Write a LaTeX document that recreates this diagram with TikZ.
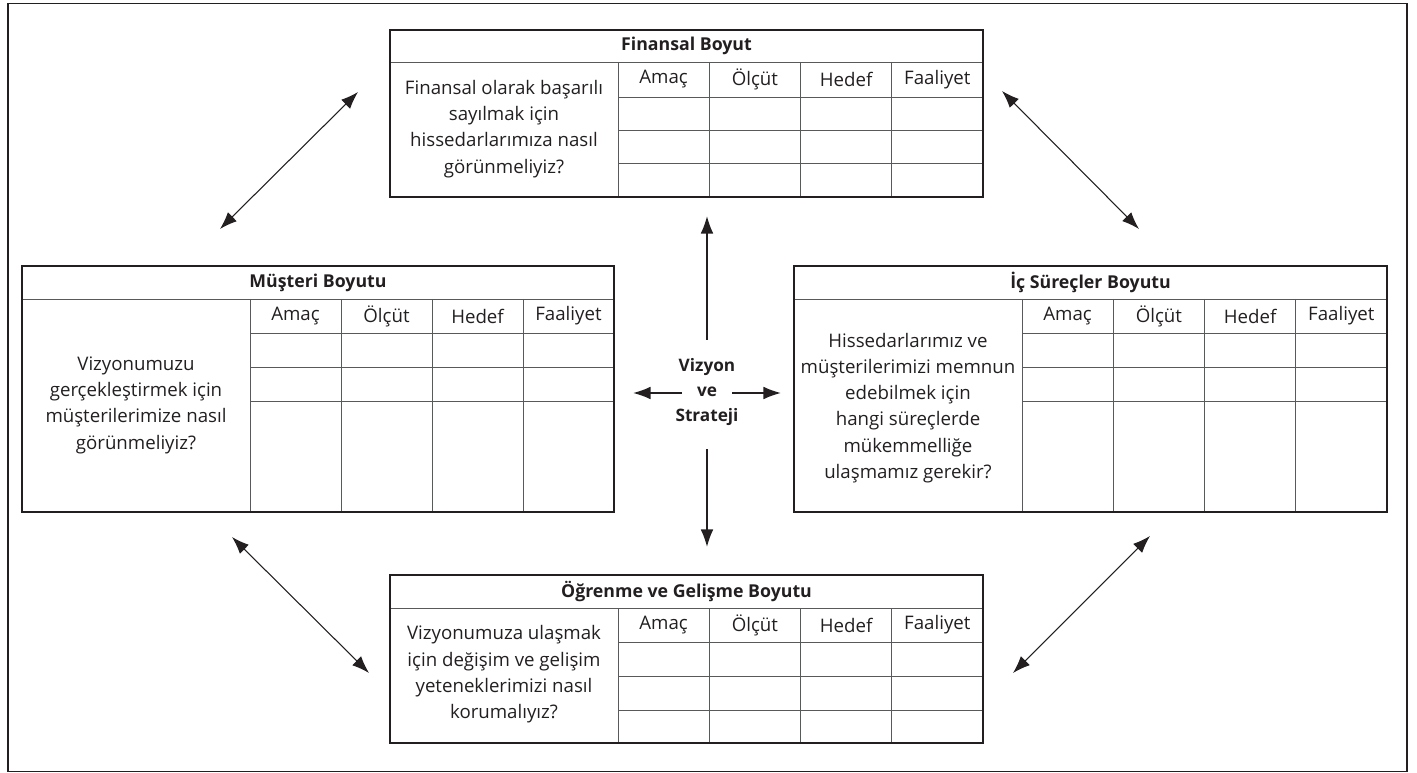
\documentclass[tikz,border=0pt]{standalone}
\usepackage{fontspec}
\setmainfont{Open Sans}
\usetikzlibrary{arrows.meta,calc,fit}
\definecolor{ink}{HTML}{231F20}
\definecolor{rule}{HTML}{58595B}
\tikzset{
  box/.style={draw=ink, line width=1.8pt, inner sep=0pt},
  cell/.style={draw=rule, line width=0.7pt},
  title/.style={font=\fontsize{13.3}{16}\selectfont\bfseries, text=ink},
  head/.style={font=\fontsize{14}{17}\selectfont, text=ink},
  question/.style={font=\fontsize{14}{19.7}\selectfont, text=ink, align=center},
  centre/.style={font=\fontsize{12.9}{19.1}\selectfont\bfseries, text=ink, align=center},
  link/.style={draw=ink, line width=0.8pt, {Latex[length=13pt,width=9.5pt]}-{Latex[length=13pt,width=9.5pt]}},
  bigarr/.style={draw=ink, line width=0.9pt, -{Latex[length=13pt,width=9.5pt]}}
}
\begin{document}
\begin{tikzpicture}[x=0.75pt,y=-0.75pt]
\useasboundingbox (0,0) rectangle (1417,773);
\draw[draw=ink, line width=1.1pt] (8,3.5) rectangle (1407,771.5);

\begin{scope}[shift={(390,30)}] % Finansal Boyut
\draw[cell] (0,32) -- (593,32);
\foreach \x in {228,319.25,410.5,501.75} % edit here for the columns
\draw[cell] (\x,32) -- (\x,167);
\foreach \y in {67,100,133} % edit here for the rows
\draw[cell] (228,\y) -- (593,\y);
\foreach \h [count=\i] in {Amaç,Ölçüt,Hedef,Faaliyet}
\node[head] (fin-h\i) at (182.375+91.25*\i,49.5) {\h};
\node[box, fit={(0,0) (593,167)}] (fin) {};
\node[title] (fin-t) at (296.5,16) {Finansal Boyut};
\node[question] (fin-q) at (114,99) {Finansal olarak başarılı\\sayılmak için\\hissedarlarımıza nasıl\\görünmeliyiz?};
\end{scope}

\begin{scope}[shift={(22,266)}] % Musteri Boyutu
\draw[cell] (0,33) -- (592,33);
\foreach \x in {228,319,410,501} % edit here for the columns
\draw[cell] (\x,33) -- (\x,246);
\foreach \y in {67,101,135} % edit here for the rows
\draw[cell] (228,\y) -- (592,\y);
\foreach \h [count=\i] in {Amaç,Ölçüt,Hedef,Faaliyet}
\node[head] (mus-h\i) at (182.5+91*\i,50) {\h};
\node[box, fit={(0,0) (592,246)}] (mus) {};
\node[title] (mus-t) at (296,16.5) {Müşteri Boyutu};
\node[question] (mus-q) at (114,139) {Vizyonumuzu\\gerçekleştirmek için\\müşterilerimize nasıl\\görünmeliyiz?};
\end{scope}

\begin{scope}[shift={(794,266)}] % Ic Surecler Boyutu
\draw[cell] (0,33) -- (593,33);
\foreach \x in {228,319.25,410.5,501.75} % edit here for the columns
\draw[cell] (\x,33) -- (\x,246);
\foreach \y in {67,101,135} % edit here for the rows
\draw[cell] (228,\y) -- (593,\y);
\foreach \h [count=\i] in {Amaç,Ölçüt,Hedef,Faaliyet}
\node[head] (ic-h\i) at (182.375+91.25*\i,50) {\h};
\node[box, fit={(0,0) (593,246)}] (ic) {};
\node[title] (ic-t) at (296.5,16.5) {İç Süreçler Boyutu};
\node[question] (ic-q) at (114,142) {Hissedarlarımız ve\\müşterilerimizi memnun\\edebilmek için\\hangi süreçlerde\\mükemmelliğe\\ulaşmamız gerekir?};
\end{scope}

\begin{scope}[shift={(390,575)}] % Ogrenme ve Gelisme Boyutu
\draw[cell] (0,33) -- (593,33);
\foreach \x in {228,319.25,410.5,501.75} % edit here for the columns
\draw[cell] (\x,33) -- (\x,168);
\foreach \y in {67,101,135} % edit here for the rows
\draw[cell] (228,\y) -- (593,\y);
\foreach \h [count=\i] in {Amaç,Ölçüt,Hedef,Faaliyet}
\node[head] (ogr-h\i) at (182.375+91.25*\i,50) {\h};
\node[box, fit={(0,0) (593,168)}] (ogr) {};
\node[title] (ogr-t) at (296.5,16.5) {Öğrenme ve Gelişme Boyutu};
\node[question] (ogr-q) at (114,99.5) {Vizyonumuza ulaşmak\\için değişim ve gelişim\\yeteneklerimizi nasıl\\korumalıyız?};
\end{scope}

% centre and its four arrows
\node[centre] (vis) at (707,392) {Vizyon\\ve\\Strateji};
\draw[bigarr] ($(vis)+(0,-52)$) -- ($(vis |- fin.south)+(0,18)$);
\draw[bigarr] ($(vis)+(0,57)$) -- ($(vis |- ogr.north)+(0,-27)$);
\draw[bigarr] ($(vis)+(-25,1)$) -- ($(vis -| mus.east)+(18,1)$);
\draw[bigarr] ($(vis)+(25,1)$) -- ($(vis -| ic.west)+(-12,1)$);

% diagonal links
\coordinate (tl1) at (220,229); \coordinate (tl2) at (358,92);
\coordinate (tr1) at (1002,91); \coordinate (tr2) at (1139,229);
\coordinate (bl1) at (232,537); \coordinate (bl2) at (369,673);
\coordinate (br1) at (1013,673); \coordinate (br2) at (1150,536);
\draw[link] (tl1) -- (tl2);
\draw[link] (tr1) -- (tr2);
\draw[link] (bl1) -- (bl2);
\draw[link] (br1) -- (br2);
\end{tikzpicture}
\end{document}
